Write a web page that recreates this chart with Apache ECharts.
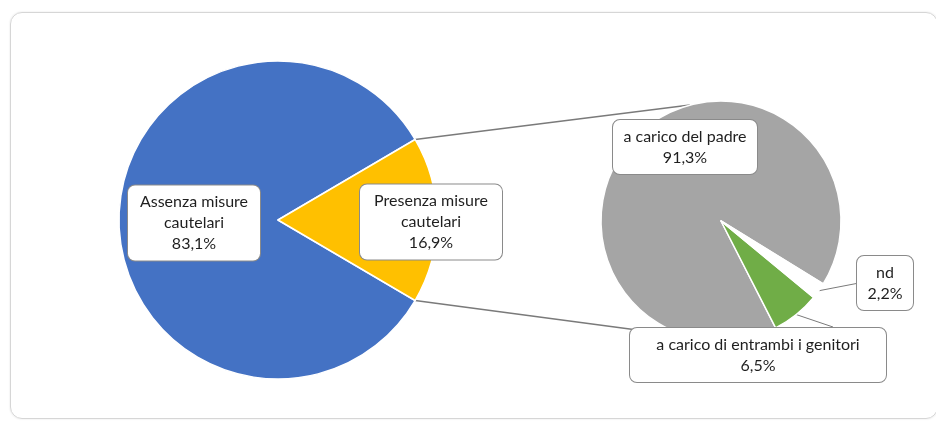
<!DOCTYPE html>
<html>
<head>
<meta charset="utf-8">
<script src="https://cdn.jsdelivr.net/npm/echarts@6/dist/echarts.min.js"></script>
<style>
  html, body { margin: 0; padding: 0; background: #fff; }
  #card {
    position: absolute; left: 10px; top: 12px; width: 928px; height: 407px;
    box-sizing: border-box; border: 1px solid #d6d6d6; border-radius: 12px;
    box-shadow: 0 0 2px rgba(0, 0, 0, 0.12);
  }
  #chart { position: absolute; left: 0; top: 0; width: 936px; height: 421px; }
</style>
</head>
<body>
<div id="card"></div>
<div id="chart"></div>
<script>
// dati
const mainNames = ['Assenza misure\ncautelari', 'Presenza misure\ncautelari']
const mainValues = [83.1, 16.9]
const subNames = ['a carico del padre', 'a carico di entrambi i genitori', 'nd']
const subValues = [91.3, 6.5, 2.2]

// layout
const C1 = [278, 220], R1 = 159
const C2 = [721, 221], R2 = 120
const mainLabelPos = [[194, 223], [431, 222]]
const mainLabelWidth = [112, 122]
const subLabelPos = [[685, 147], [758, 355], [885, 283]]
const subLabelWidth = [124, 236, 36]
const subLineEnd = [null, [833, 327], [859, 283]]

const colors = {
  main: ['#4472C4', '#FFC000'],
  sub: ['#A5A5A5', '#70AD47', '#FFFFFF']
}

const fmt = p => p.name + '\n' + p.value.toFixed(1).replace('.', ',') + '%'

const labelBase = {
  show: true,
  formatter: fmt,
  color: '#1f1f1f',
  fontFamily: 'Lato',
  fontSize: 16,
  lineHeight: 21,
  align: 'center',
  overflow: 'none',
  backgroundColor: '#fff',
  borderColor: '#8a8a8a',
  borderWidth: 1,
  borderRadius: 7,
  padding: [6, 8]
}

const chart = echarts.init(document.getElementById('chart'))

// linee di collegamento tra le due torte
const half = mainValues[1] * 1.8 * Math.PI / 180
const a2 = 105 * Math.PI / 180
const p1 = [C1[0] + R1 * Math.cos(half), C1[1] - R1 * Math.sin(half)]
const p2 = [C1[0] + R1 * Math.cos(half), C1[1] + R1 * Math.sin(half)]
const q1 = [C2[0] + R2 * Math.cos(a2), C2[1] - R2 * Math.sin(a2)]
const q2 = [C2[0] + R2 * Math.cos(a2), C2[1] + R2 * Math.sin(a2)]

chart.setOption({
  animation: false,
  graphic: [
    { type: 'line', z: 0, shape: { x1: p1[0], y1: p1[1], x2: q1[0], y2: q1[1] }, style: { stroke: '#7a7a7a', lineWidth: 1.5 } },
    { type: 'line', z: 0, shape: { x1: p2[0], y1: p2[1], x2: q2[0], y2: q2[1] }, style: { stroke: '#7a7a7a', lineWidth: 1.5 } }
  ],
  series: [
    {
      type: 'pie',
      center: C1,
      radius: R1,
      startAngle: -mainValues[1] * 1.8,
      avoidLabelOverlap: false,
      silent: true,
      itemStyle: { borderColor: '#fff', borderWidth: 1.5 },
      label: Object.assign({}, labelBase, { position: 'inside' }),
      labelLine: { show: false },
      labelLayout: p => {
        const pos = mainLabelPos[p.dataIndex]
        return { x: pos[0], y: pos[1], align: 'center', verticalAlign: 'middle' }
      },
      data: mainNames.map((n, i) => ({
        name: n,
        value: mainValues[i],
        itemStyle: { color: colors.main[i] },
        label: { width: mainLabelWidth[i] + 4 }
      }))
    },
    {
      type: 'pie',
      center: C2,
      radius: R2,
      startAngle: -31.6,
      clockwise: false,
      avoidLabelOverlap: false,
      silent: true,
      itemStyle: { borderColor: '#fff', borderWidth: 1.5 },
      label: Object.assign({}, labelBase, { position: 'outside' }),
      labelLine: { show: true, length: 5, length2: 5, lineStyle: { color: '#7a7a7a', width: 1 } },
      labelLayout: p => {
        const pos = subLabelPos[p.dataIndex]
        const out = { x: pos[0], y: pos[1], align: 'center', verticalAlign: 'middle' }
        const end = subLineEnd[p.dataIndex]
        if (end && p.labelLinePoints) {
          const pts = p.labelLinePoints.map(q => q.slice())
          pts[1] = end.slice()
          pts[2] = end.slice()
          out.labelLinePoints = pts
        }
        return out
      },
      data: subNames.map((n, i) => ({
        name: n,
        value: subValues[i],
        itemStyle: { color: colors.sub[i] },
        label: { width: subLabelWidth[i] + 4 },
        labelLine: { show: i !== 0 }
      }))
    }
  ]
})
</script>
</body>
</html>
